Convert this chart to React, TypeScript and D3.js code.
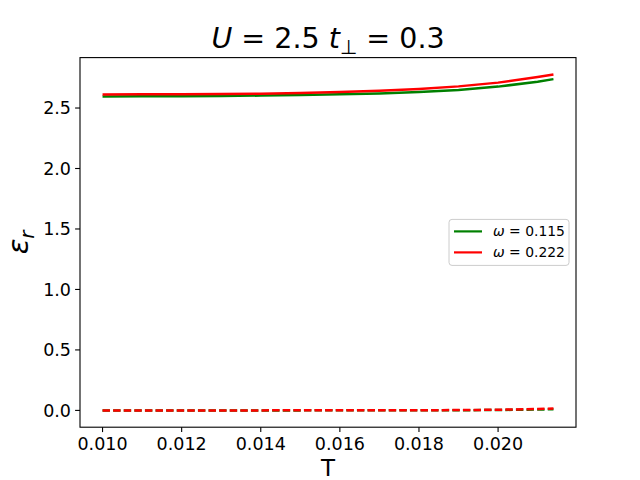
import React from "react";
import * as d3 from "d3";

const T = [0.010, 0.011, 0.012, 0.013, 0.014, 0.015, 0.016, 0.017, 0.018, 0.019, 0.020, 0.021, 0.0214];
const solid115 = [2.596, 2.597, 2.598, 2.600, 2.603, 2.607, 2.613, 2.621, 2.632, 2.650, 2.677, 2.718, 2.739];
const solid222 = [2.612, 2.613, 2.614, 2.616, 2.619, 2.624, 2.632, 2.643, 2.658, 2.679, 2.710, 2.757, 2.778];
const dashed115 = [0, 0, 0, 0.0001, 0.0001, 0.0002, 0.0003, 0.0005, 0.0009, 0.0016, 0.0032, 0.0070, 0.0095];
const dashed222 = [0, 0, 0.0001, 0.0001, 0.0002, 0.0003, 0.0005, 0.0008, 0.0014, 0.0026, 0.0055, 0.0120, 0.0160];
const xTicks = [0.010, 0.012, 0.014, 0.016, 0.018, 0.020];
const yTicks = [0.0, 0.5, 1.0, 1.5, 2.0, 2.5];
const legendLabels = ["0.115", "0.222"];
const colors = ["#008000", "#ff0000"];

const W = 640, H = 480;
const L = 80, R = 576, TOP = 57.6, B = 427.2;
const FONT = "DejaVu Sans, sans-serif";

export default function App() {
  const xMin = d3.min(T)!, xMax = d3.max(T)!;
  const xm = (xMax - xMin) * 0.05;
  const x = d3.scaleLinear().domain([xMin - xm, xMax + xm]).range([L, R]);
  const all = [...solid115, ...solid222, ...dashed115, ...dashed222];
  const yMin = d3.min(all)!, yMax = d3.max(all)!;
  const ym = (yMax - yMin) * 0.05;
  const y = d3.scaleLinear().domain([yMin - ym, yMax + ym]).range([B, TOP]);
  const line = d3.line<number>().x((_, i) => x(T[i])).y((d) => y(d));
  const series = [
    { d: solid115, c: colors[0], dash: null },
    { d: dashed115, c: colors[0], dash: "7.4,3.2" },
    { d: solid222, c: colors[1], dash: null },
    { d: dashed222, c: colors[1], dash: "7.4,3.2" },
  ];
  const fmtX = d3.format(".3f");
  const fmtY = d3.format(".1f");
  const lgR = R - 7, lgW = 120, lgH = 46;
  const lgX = lgR - lgW, lgY = (TOP + B) / 2 - lgH / 2;
  return (
    <svg width={W} height={H} style={{ display: "block", position: "absolute", left: 0, top: 0 }} fontFamily={FONT}>
      <rect x={0} y={0} width={W} height={H} fill="#fff" />
      <defs>
        <clipPath id="clip"><rect x={L} y={TOP} width={R - L} height={B - TOP} /></clipPath>
      </defs>
      <g clipPath="url(#clip)">
        {series.map((s, i) => (
          <path key={i} d={line(s.d)!} fill="none" stroke={s.c} strokeWidth={2.5}
            strokeDasharray={s.dash ?? undefined} />
        ))}
      </g>
      <rect x={L} y={TOP} width={R - L} height={B - TOP} fill="none" stroke="#000" strokeWidth={1.1} />
      {xTicks.map((t) => (
        <g key={t}>
          <line x1={x(t)} x2={x(t)} y1={B} y2={B + 4.9} stroke="#000" strokeWidth={1.1} />
          <text x={x(t)} y={B + 23} textAnchor="middle" fontSize={17.5} fill="#000">{fmtX(t)}</text>
        </g>
      ))}
      {yTicks.map((t) => (
        <g key={t}>
          <line x1={L - 4.9} x2={L} y1={y(t)} y2={y(t)} stroke="#000" strokeWidth={1.1} />
          <text x={L - 9} y={y(t) + 6.3} textAnchor="end" fontSize={17.5} fill="#000">{fmtY(t)}</text>
        </g>
      ))}
      <text x={(L + R) / 2} y={476} textAnchor="middle" fontSize={23} fill="#000">T</text>
      <text transform={`translate(28,${(TOP + B) / 2}) rotate(-90)`} textAnchor="middle" fontSize={29} fill="#000">
        <tspan fontStyle="italic">ε</tspan><tspan fontStyle="italic" fontSize={20} dy={6}>r</tspan>
      </text>
      <text x={(L + R) / 2} y={48} textAnchor="middle" fontSize={28.5} fill="#000">
        <tspan fontStyle="italic">U</tspan>
        <tspan> = 2.5 </tspan>
        <tspan fontStyle="italic">t</tspan>
        <tspan fontSize={20} dy={6}>⊥</tspan>
        <tspan dy={-6}> = 0.3</tspan>
      </text>
      <rect x={lgX} y={lgY} width={lgW} height={lgH} rx={3} fill="#fff" fillOpacity={0.8} stroke="#cccccc" strokeWidth={1} />
      {legendLabels.map((lab, i) => {
        const cy = lgY + 12 + i * 21;
        return (
          <g key={lab}>
            <line x1={lgX + 5} x2={lgX + 33} y1={cy} y2={cy} stroke={colors[i]} strokeWidth={2.2} />
            <text x={lgX + 44} y={cy + 5} fontSize={13.9} fill="#000">
              <tspan fontStyle="italic">ω</tspan><tspan> = {lab}</tspan>
            </text>
          </g>
        );
      })}
    </svg>
  );
}
